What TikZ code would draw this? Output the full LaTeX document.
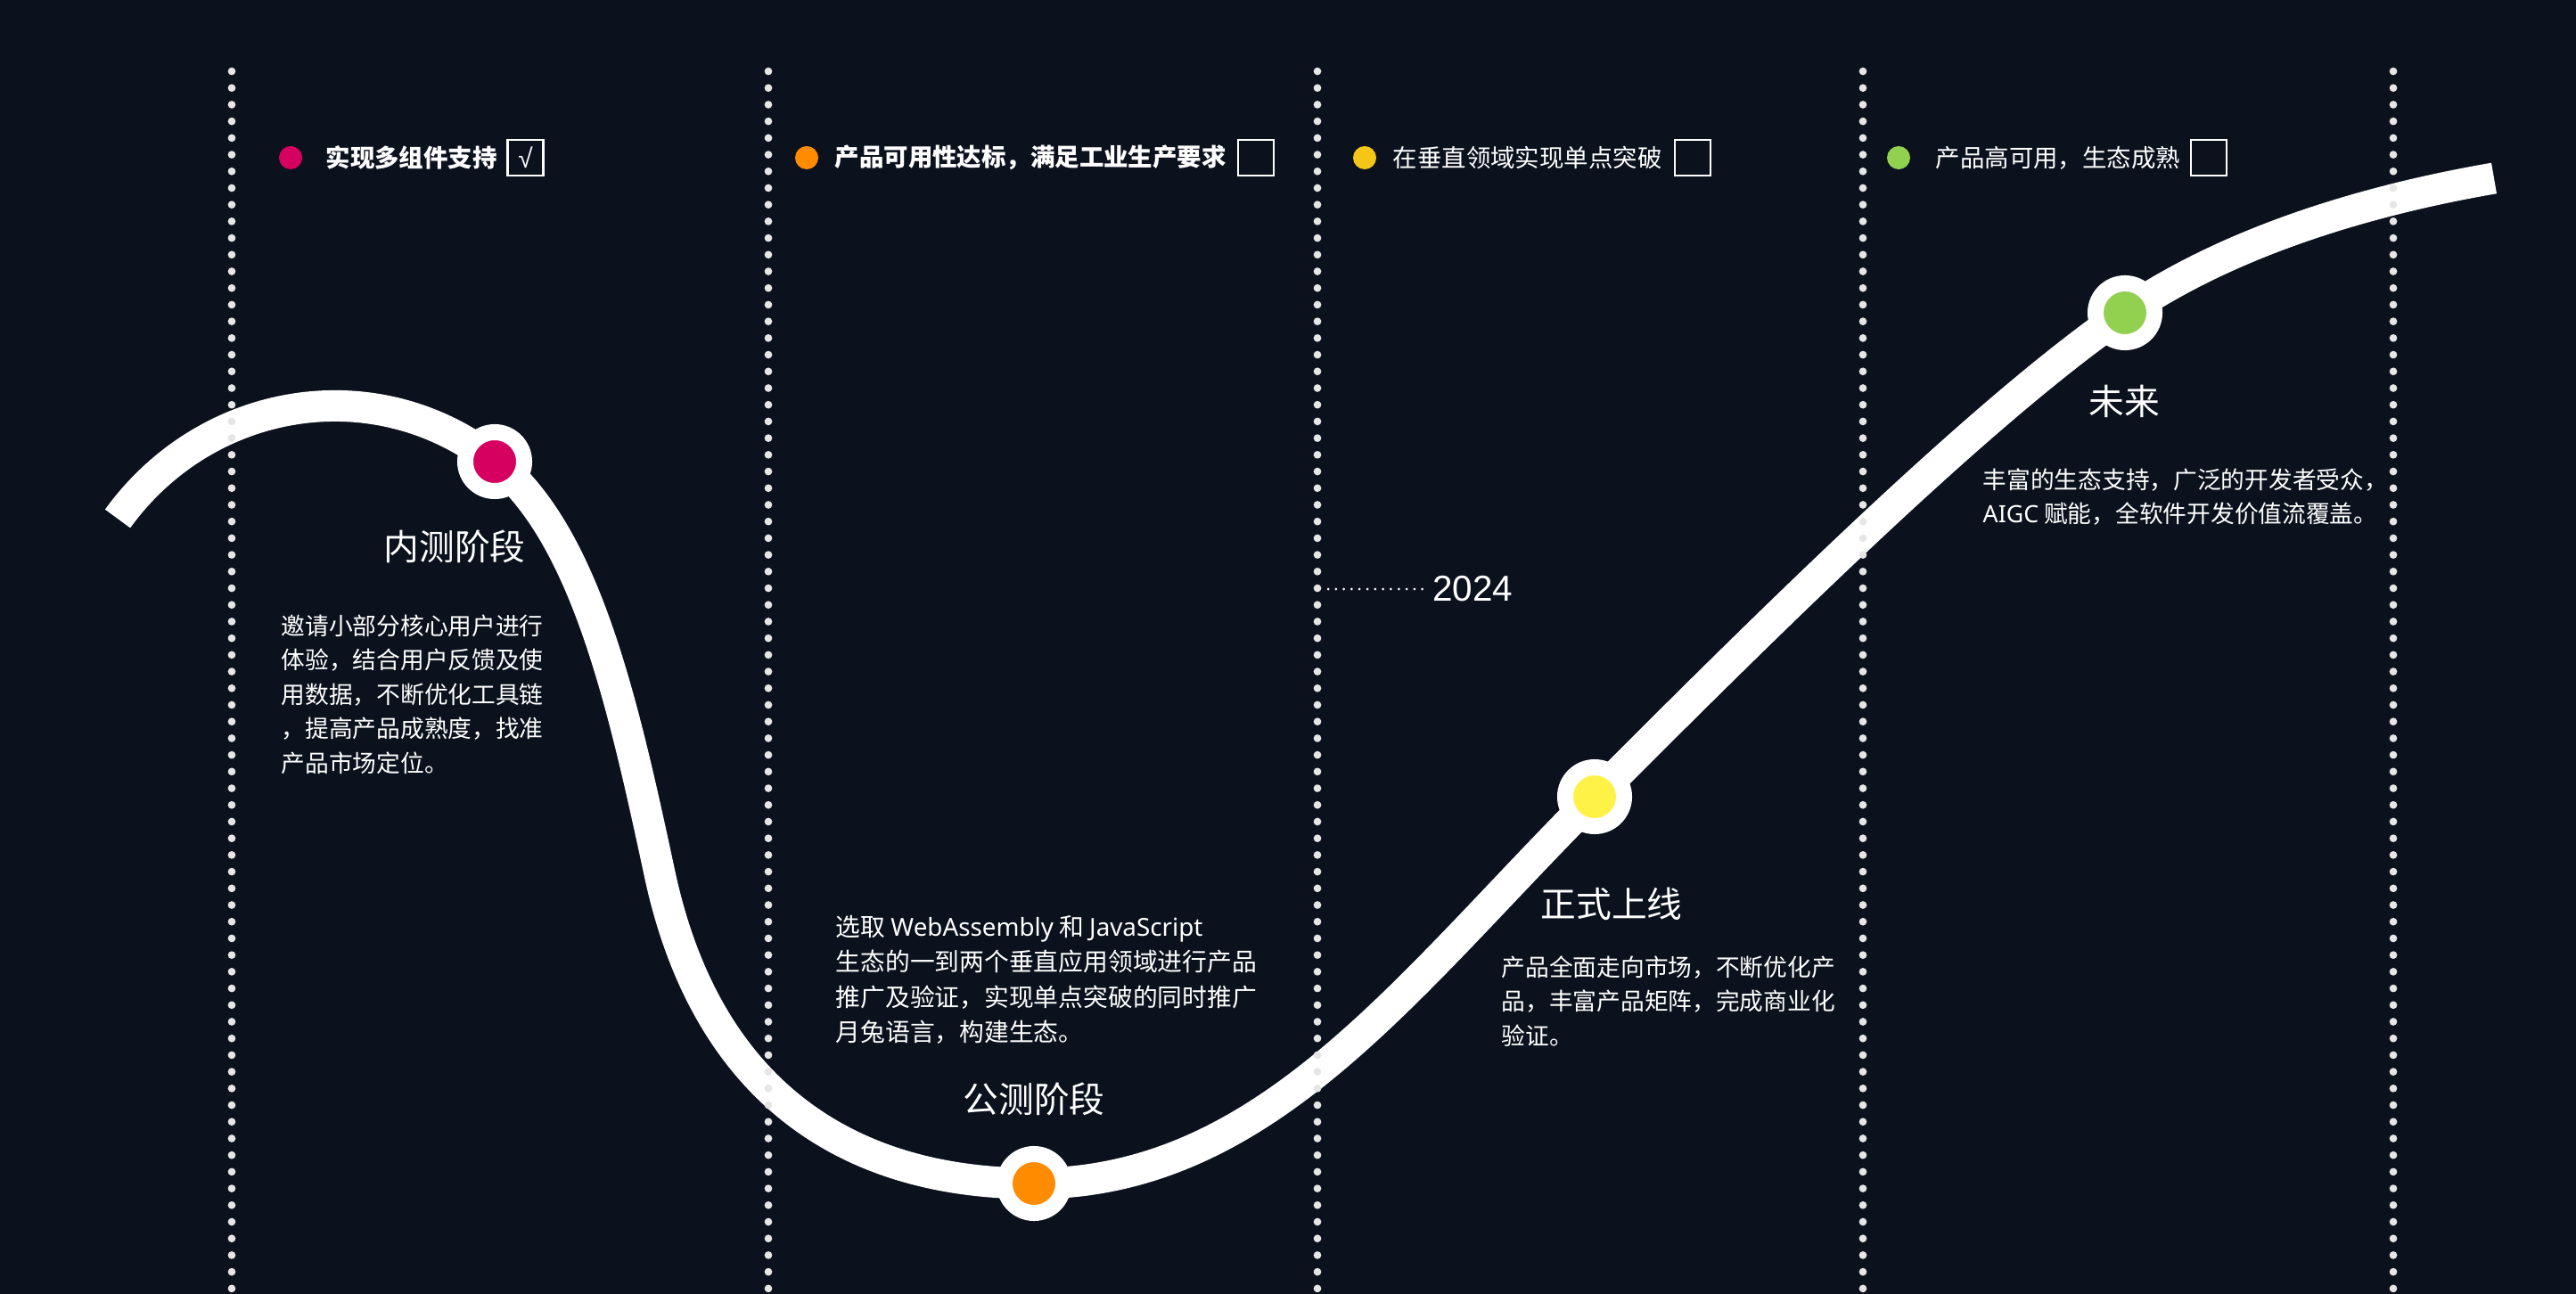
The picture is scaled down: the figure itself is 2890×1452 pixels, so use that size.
\documentclass[tikz,border=0pt]{standalone}
\usepackage{fontspec}
\setmainfont{Noto Sans CJK SC}
\newfontfamily\latin{Noto Sans}
\newfontfamily\yearfont{Liberation Sans}
\usetikzlibrary{positioning}
\definecolor{bg}{RGB}{11,17,29}
\definecolor{mred}{RGB}{214,0,96}
\definecolor{morange}{RGB}{255,140,0}
\definecolor{mgold}{RGB}{245,197,24}
\definecolor{myellow}{RGB}{255,242,70}
\definecolor{mgreen}{RGB}{146,208,80}
\definecolor{dotgray}{RGB}{230,230,230}

\begin{document}
\begin{tikzpicture}[x=0.01cm,y=-0.01cm,
  vline/.style={dotgray, line width=0.087cm, line cap=round, dash pattern=on 0pt off 0.187cm},
  marker/.style={circle, draw=white, line width=0.18cm, minimum size=0.66cm, inner sep=0pt},
  legdot/.style={circle, inner sep=0pt, minimum size=0.26cm},
  legtext/.style={text=white, inner sep=0pt, anchor=west, font=\fontsize{7.8pt}{9pt}\selectfont},
  checkbox/.style={draw=white, line width=0.6pt, minimum size=0.4cm, inner sep=0pt, text=white, font=\yearfont\fontsize{8.5pt}{9pt}\selectfont},
  stagename/.style={text=white, inner sep=0pt, font=\fontsize{11.3pt}{13pt}\selectfont},
  stagetext/.style={text=white, inner sep=0pt, anchor=north west, align=left, font=\fontsize{7.6pt}{10.95pt}\selectfont}]
 \fill[bg] (0,0) rectangle (2890,1452);
 \useasboundingbox (0,0) rectangle (2890,1452);

 \coordinate (c0) at (132,582);
 \coordinate (c1) at (555,518);
 \coordinate (c2) at (740,980);
 \coordinate (c3) at (1160,1328);
 \coordinate (c4) at (1789,894);
 \coordinate (c5) at (2384,351);
 \coordinate (c6) at (2798,200);
 \draw[white, line width=0.35cm] (c0) .. controls (232,444) and (422,413) .. (c1)
   .. controls (656,599) and (698,784) .. (c2)
   .. controls (788,1205) and (930,1328) .. (c3)
   .. controls (1420,1328) and (1577,1106) .. (c4)
   .. controls (1966,717) and (2219,464) .. (c5)
   .. controls (2508,266) and (2670,222) .. (c6);

 \foreach \x in {260,862,1478,2090,2685}
   \draw[vline] (\x,80) -- (\x,1452);

 \node[marker, fill=mred] (m1) at (c1) {};
 \node[marker, fill=morange] (m2) at (c3) {};
 \node[marker, fill=myellow] (m3) at (c4) {};
 \node[marker, fill=mgreen] (m4) at (c5) {};

 \node[stagename] (s1) at (510,613) {内测阶段};
 \node[stagename] (s2) at (1160,1233) {公测阶段};
 \node[stagename] (s3) at (1808,1014) {正式上线};
 \node[stagename] (s4) at (2383,450) {未来};

 \node[stagetext] (p1) at (315,689) {邀请小部分核心用户进行\\体验，结合用户反馈及使\\用数据，不断优化工具链\\，提高产品成熟度，找准\\产品市场定位。};
 \node[stagetext, font=\fontsize{7.9pt}{11.1pt}\selectfont] (p2) at (937,1027) {选取 {\latin WebAssembly} 和 {\latin JavaScript}\\生态的一到两个垂直应用领域进行产品\\推广及验证，实现单点突破的同时推广\\月兔语言，构建生态。};
 \node[stagetext] (p3) at (1684,1072) {产品全面走向市场，不断优化产\\品，丰富产品矩阵，完成商业化\\验证。};
 \node[stagetext] (p4) at (2224,525) {丰富的生态支持，广泛的开发者受众，\\{\latin AIGC} 赋能，全软件开发价值流覆盖。};

 \node[legdot, fill=mred] (d1) at (326,177) {};
 \node[legtext, font=\bfseries\fontsize{7.8pt}{9pt}\selectfont] (t1) at (365,177) {实现多组件支持};
 \node[checkbox, right=0.1cm of t1] (b1) {√};
 \node[legdot, fill=morange] (d2) at (905,177) {};
 \node[legtext, font=\bfseries\fontsize{7.8pt}{9pt}\selectfont] (t2) at (936,177) {产品可用性达标，满足工业生产要求};
 \node[checkbox, right=0.12cm of t2] (b2) {};
 \node[legdot, fill=mgold] (d3) at (1531,177) {};
 \node[legtext] (t3) at (1562,177) {在垂直领域实现单点突破};
 \node[checkbox, right=0.13cm of t3] (b3) {};
 \node[legdot, fill=mgreen] (d4) at (2130,177) {};
 \node[legtext] (t4) at (2171,177) {产品高可用，生态成熟};
 \node[checkbox, right=0.1cm of t4] (b4) {};

 \node[text=white, inner sep=0pt, font=\yearfont\fontsize{11.5pt}{13pt}\selectfont] (yr) at (1652,661) {2024};
 \coordinate (y0) at (1490,661);
 \draw[white, line width=0.03cm, line cap=round, dash pattern=on 0pt off 0.088cm, shorten >=0.1cm] (y0) -- (yr.west);
\end{tikzpicture}
\end{document}
